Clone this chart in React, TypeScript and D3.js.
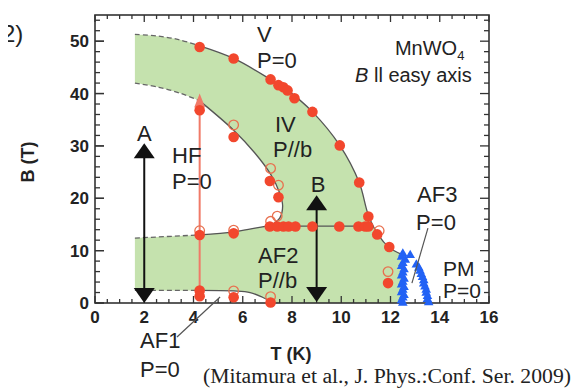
import React, { useEffect, useRef } from 'react';
import * as d3 from 'd3';

type Pt = [number, number];

// axis ticks
const xTicks = [0, 2, 4, 6, 8, 10, 12, 14, 16];
const yTicks = [0, 10, 20, 30, 40, 50];

// phase boundaries (T in K, B in T)
const upperDashed: Pt[] = [[1.62, 51.3], [2.5, 51.0], [3.4, 50.3], [4.25, 49.1]];
const upperSolid: Pt[] = [[4.25, 49.1], [5.63, 46.7], [7.13, 42.7], [7.8, 40.7], [8.83, 36.5], [9.94, 30.1], [10.73, 23.0], [11.1, 16.8], [11.5, 13.0], [11.95, 10.6], [12.45, 9.3]];
const lowerDashed: Pt[] = [[1.62, 42.0], [2.6, 41.2], [3.5, 40.0], [4.25, 38.6]];
const lowerSolid: Pt[] = [[4.25, 38.6], [5.63, 33.0], [6.5, 28.6], [7.13, 24.6], [7.5, 21.0], [7.62, 18.5], [7.5, 16.2], [7.13, 14.8]];
const af2Dashed: Pt[] = [[1.62, 12.4], [4.25, 13.0]];
const af2Solid: Pt[] = [[4.25, 13.0], [5.63, 13.6], [6.5, 14.3], [7.13, 14.8]];
const af2Top: Pt[] = [[7.13, 14.7], [11.3, 14.7]];
const af1Dashed: Pt[] = [[1.62, 2.4], [4.25, 2.4]];
const af1Solid: Pt[] = [[4.25, 2.4], [5.63, 2.3], [6.3, 2.0], [6.8, 1.1], [7.13, 0.3]];
const af3Edge: Pt[] = [[12.45, 9.3], [12.45, 0]];
const baseEdge: Pt[] = [[12.45, 0], [7.13, 0]];
const leftEdge: Pt[] = [[1.62, 2.4], [1.62, 12.4]];

// measured points
const filledPoints: Pt[] = [
  [4.25, 48.9], [5.63, 46.7], [7.13, 42.7], [7.45, 41.6], [7.65, 41.2], [7.82, 40.6], [8.1, 39.1],
  [8.83, 36.5], [9.94, 30.1], [10.73, 23.0], [11.1, 16.5], [11.46, 13.1], [11.95, 10.7],
  [4.25, 36.8], [5.63, 31.7], [7.1, 23.3], [7.45, 20.2],
  [7.1, 14.6], [7.4, 14.6], [7.65, 14.6], [7.86, 14.6], [8.14, 14.6], [8.83, 14.6], [9.92, 14.6],
  [10.7, 14.6], [10.97, 14.6], [11.1, 14.6],
  [4.25, 13.0], [5.63, 13.3], [11.9, 3.8],
  [4.25, 2.4], [4.25, 1.3], [5.63, 1.1], [7.13, 0.1],
];
const openPoints: Pt[] = [
  [5.63, 34.0], [7.13, 25.7], [7.45, 22.5], [7.13, 15.6], [7.4, 16.6],
  [4.25, 13.8], [5.63, 13.9], [11.54, 13.8], [11.9, 6.0], [5.63, 2.3], [7.13, 1.2],
];
const bluePoints: Pt[] = [
  [12.5, 0.0], [12.45, 0.5], [12.5, 1.0], [12.55, 1.5], [12.45, 2.0], [12.5, 2.5], [12.55, 3.0],
  [12.45, 3.5], [12.5, 4.0], [12.55, 4.6], [12.45, 5.2], [12.5, 5.8], [12.55, 6.4], [12.45, 7.0],
  [12.5, 7.6], [12.6, 8.2], [12.45, 8.8], [12.5, 9.4], [12.8, 9.1],
  [13.05, 7.3], [13.15, 6.7], [13.2, 6.1], [13.25, 5.5], [13.3, 4.9], [13.35, 4.3], [13.35, 3.7],
  [13.4, 3.1], [13.45, 2.5], [13.45, 1.9], [13.5, 1.3], [13.5, 0.7], [13.55, 0.1],
];

// field sweeps: [T, Bstart, Bend]
const blackArrows: [number, number, number][] = [[2.0, 0, 30.5], [9.0, 0.2, 20.6]];
const redArrow: [number, number, number] = [4.25, 0.5, 40.0];

const labels: { text: string; t: number; b: number; anchor?: string; size?: number }[] = [
  { text: 'V', t: 6.58, b: 49.85 },
  { text: 'P=0', t: 6.58, b: 44.9 },
  { text: 'IV', t: 7.31, b: 32.66 },
  { text: 'P//b', t: 7.23, b: 27.9 },
  { text: 'HF', t: 3.13, b: 26.7 },
  { text: 'P=0', t: 3.13, b: 21.8 },
  { text: 'A', t: 2.0, b: 31.0, anchor: 'middle' },
  { text: 'B', t: 9.06, b: 21.2, anchor: 'middle' },
  { text: 'AF2', t: 6.62, b: 7.64 },
  { text: 'P//b', t: 6.62, b: 2.86 },
  { text: 'AF3', t: 13.08, b: 19.3 },
  { text: 'P=0', t: 13.04, b: 13.9 },
  { text: 'PM', t: 14.13, b: 5.2, size: 21 },
  { text: 'P=0', t: 14.13, b: 0.95, size: 21 },
  { text: 'AF1', t: 1.83, b: -8.6 },
  { text: 'P=0', t: 1.83, b: -14.1 },
];
const leaders: [Pt, Pt][] = [
  [[3.33, -6.5], [5.08, 1.15]],
  [[13.52, 14.3], [12.87, 3.8]],
];

const App: React.FC = () => {
  const ref = useRef<SVGSVGElement | null>(null);

  useEffect(() => {
    const svg = d3.select(ref.current);
    svg.selectAll('*').remove();

    const x = d3.scaleLinear().domain([0, 16]).range([95, 489]);
    const y = d3.scaleLinear().domain([0, 55]).range([303, 15]);
    const font = '"Liberation Sans", Arial, sans-serif';

    const line = d3.line<Pt>()
      .x(d => x(d[0]))
      .y(d => y(d[1]))
      .curve(d3.curveCatmullRom.alpha(0.5));
    const seg = (p: Pt[]) => line(p) as string;
    const rev = (p: Pt[]) => [...p].reverse();
    const join = (...parts: Pt[][]) =>
      parts.map((p, i) => (i === 0 ? seg(p) : seg(p).replace(/^M/, 'L'))).join('') + 'Z';

    // green region
    svg.append('path')
      .attr('d', join(upperDashed, upperSolid, af3Edge, baseEdge, rev(af1Solid), rev(af1Dashed),
        leftEdge, af2Dashed, af2Solid, rev(lowerSolid), rev(lowerDashed)))
      .attr('fill', '#c5e2ae');

    // boundaries
    [upperSolid, lowerSolid, af2Solid, af2Top, af1Solid].forEach(p => {
      svg.append('path').attr('d', seg(p)).attr('fill', 'none')
        .attr('stroke', '#555').attr('stroke-width', 1.3);
    });
    [upperDashed, lowerDashed, af2Dashed, af1Dashed].forEach(p => {
      svg.append('path').attr('d', seg(p)).attr('fill', 'none')
        .attr('stroke', '#666').attr('stroke-width', 1.3).attr('stroke-dasharray', '5,3');
    });

    // frame and ticks
    const g = svg.append('g').attr('stroke', '#333');
    g.append('rect').attr('x', 95).attr('y', 15).attr('width', 394).attr('height', 288)
      .attr('fill', 'none').attr('stroke-width', 1.6);
    d3.range(0, 16.01, 0.5).forEach(v => {
      const len = v % 2 === 0 ? 7 : 4;
      g.append('line').attr('x1', x(v)).attr('x2', x(v)).attr('y1', 303).attr('y2', 303 - len).attr('stroke-width', 1.3);
      g.append('line').attr('x1', x(v)).attr('x2', x(v)).attr('y1', 15).attr('y2', 15 + len).attr('stroke-width', 1.3);
    });
    d3.range(0, 55, 2).forEach(v => {
      const len = v % 10 === 0 ? 9 : 5;
      g.append('line').attr('x1', 95).attr('x2', 95 + len).attr('y1', y(v)).attr('y2', y(v)).attr('stroke-width', 1.3);
      g.append('line').attr('x1', 489).attr('x2', 489 - len).attr('y1', y(v)).attr('y2', y(v)).attr('stroke-width', 1.3);
    });
    yTicks.forEach(v => {
      g.append('line').attr('x1', 95).attr('x2', 104).attr('y1', y(v)).attr('y2', y(v)).attr('stroke-width', 1.3);
    });

    svg.append('g').selectAll('text').data(xTicks).enter().append('text')
      .attr('x', d => x(d)).attr('y', 323).attr('text-anchor', 'middle')
      .attr('font-family', font).attr('font-weight', 'bold').attr('font-size', 17).attr('fill', '#222')
      .text(d => d);
    svg.append('g').selectAll('text').data(yTicks).enter().append('text')
      .attr('x', 89).attr('y', d => y(d) + 6).attr('text-anchor', 'end')
      .attr('font-family', font).attr('font-weight', 'bold').attr('font-size', 17).attr('fill', '#222')
      .text(d => d);

    // field-sweep arrows
    const arrowHead = (t: number, tip: number, dir: number, w: number, h: number, color: string) => {
      const px = x(t), py = y(tip);
      svg.append('path')
        .attr('d', `M${px},${py}L${px - w / 2},${py + dir * h}L${px + w / 2},${py + dir * h}Z`)
        .attr('fill', color);
    };
    blackArrows.forEach(([t, b0, b1]) => {
      svg.append('line').attr('x1', x(t)).attr('x2', x(t)).attr('y1', y(b0) - 8).attr('y2', y(b1) + 8)
        .attr('stroke', '#111').attr('stroke-width', 2);
      arrowHead(t, b1, 1, 21, 15, '#111');
      arrowHead(t, b0, -1, 21, 15, '#111');
    });
    {
      const [t, b0, b1] = redArrow;
      svg.append('line').attr('x1', x(t)).attr('x2', x(t)).attr('y1', y(b0)).attr('y2', y(b1) + 8)
        .attr('stroke', '#f07a68').attr('stroke-width', 2);
      arrowHead(t, b1, 1, 11, 14, '#f07a68');
    }

    // points
    svg.append('g').selectAll('circle').data(openPoints).enter().append('circle')
      .attr('cx', d => x(d[0])).attr('cy', d => y(d[1])).attr('r', 4.8)
      .attr('fill', 'none').attr('stroke', '#e8704f').attr('stroke-width', 1.3);
    svg.append('g').selectAll('circle').data(filledPoints).enter().append('circle')
      .attr('cx', d => x(d[0])).attr('cy', d => y(d[1])).attr('r', 5.3)
      .attr('fill', '#f2472d');
    const tri = d3.symbol().type(d3.symbolTriangle).size(40);
    svg.append('g').selectAll('path').data(bluePoints).enter().append('path')
      .attr('d', tri() as string)
      .attr('transform', d => `translate(${x(d[0])},${y(d[1])})`)
      .attr('fill', '#2262f5');

    // leader lines
    leaders.forEach(([a, b]) => {
      svg.append('line').attr('x1', x(a[0])).attr('y1', y(a[1])).attr('x2', x(b[0])).attr('y2', y(b[1]))
        .attr('stroke', '#555').attr('stroke-width', 1.2);
    });

    // region labels
    svg.append('g').selectAll('text').data(labels).enter().append('text')
      .attr('x', d => x(d.t)).attr('y', d => y(d.b))
      .attr('text-anchor', d => d.anchor || 'start')
      .attr('font-family', font).attr('font-size', d => d.size || 22).attr('fill', '#222')
      .text(d => d.text);

    const mn = svg.append('text').attr('x', x(12.18)).attr('y', y(47.4))
      .attr('font-family', font).attr('font-size', 20).attr('fill', '#222');
    mn.append('tspan').text('MnWO');
    mn.append('tspan').attr('font-size', 13).attr('dy', 5).text('4');
    const ea = svg.append('text').attr('x', x(10.56)).attr('y', y(42.2))
      .attr('font-family', font).attr('font-size', 20).attr('fill', '#222');
    ea.append('tspan').attr('font-style', 'italic').text('B');
    ea.append('tspan').text(' ll easy axis');

    // axis titles
    svg.append('text').attr('transform', 'translate(34,162) rotate(-90)').attr('text-anchor', 'middle')
      .attr('font-family', font).attr('font-weight', 'bold').attr('font-size', 18).attr('fill', '#222')
      .text('B (T)');
    svg.append('text').attr('x', 291).attr('y', 360).attr('text-anchor', 'middle')
      .attr('font-family', font).attr('font-weight', 'bold').attr('font-size', 18).attr('fill', '#222')
      .text('T (K)');
    svg.append('text').attr('x', 203).attr('y', 383)
      .attr('font-family', '"Liberation Serif", "Times New Roman", serif').attr('font-size', 20).attr('fill', '#222')
      .attr('textLength', 368).attr('lengthAdjust', 'spacingAndGlyphs')
      .text('(Mitamura et al., J. Phys.:Conf. Ser. 2009)');

    // panel label, cropped at the left edge as in the source figure
    svg.append('clipPath').attr('id', 'panelClip')
      .append('rect').attr('x', 8).attr('y', 0).attr('width', 40).attr('height', 60);
    svg.append('text').attr('x', 2).attr('y', 42).attr('clip-path', 'url(#panelClip)')
      .attr('font-family', font).attr('font-size', 24).attr('fill', '#222')
      .text('2)');
  }, []);

  return (
    <svg ref={ref} width={576} height={389}
      style={{ position: 'absolute', left: 0, top: 0, background: '#fff' }} />
  );
};

export default App;
